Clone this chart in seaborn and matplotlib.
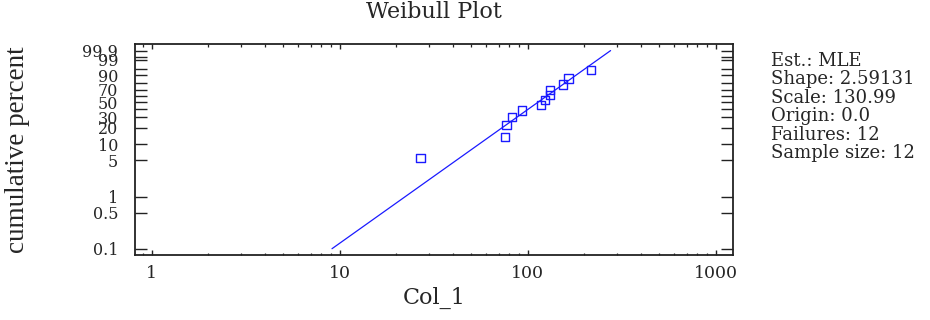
import numpy as np
import matplotlib
matplotlib.use('Agg')
import matplotlib.pyplot as plt
import matplotlib.ticker as mticker
import seaborn as sns

# data
failure_times = [26.9, 75.8, 77.1, 82.3, 93.4, 117.9, 123.8, 131.5, 132.0, 154.3, 164.8, 218.3]
cum_percent = [5.6, 13.7, 21.8, 29.8, 37.9, 46.0, 54.0, 62.1, 70.2, 78.2, 86.3, 94.4]

# fitted line ends
line_x = [9.1, 276.0]
line_p = [0.1, 99.9]

y_ticks = [0.1, 0.5, 1, 5, 10, 20, 30, 40, 50, 60, 70, 80, 90, 95, 99, 99.5, 99.9]
y_tick_labels = ['0.1', '0.5', '1', '5', '10', '20', '30', '', '50', '', '70', '', '90', '', '99', '', '99.9']
x_ticks = [1, 10, 100, 1000]
x_tick_labels = ['1', '10', '100', '1000']

stats_lines = ['Est.: MLE', 'Shape: 2.59131', 'Scale: 130.99', 'Origin: 0.0',
               'Failures: 12', 'Sample size: 12']


def weib_fwd(p):
    p = np.clip(np.asarray(p, dtype=float), 1e-9, 100 - 1e-9)
    return np.log(-np.log(1 - p / 100.0))


def weib_inv(t):
    return 100.0 * (1 - np.exp(-np.exp(t)))


sns.set_style('ticks')
plt.rcParams['font.family'] = ['DejaVu Serif']

fig = plt.figure(figsize=(9.3, 3.2), dpi=100)
ax = fig.add_axes([135 / 930, 1 - 255 / 320, 598 / 930, 211 / 320])

ax.set_xscale('log')
ax.set_yscale('function', functions=(weib_fwd, weib_inv))

sns.lineplot(x=line_x, y=line_p, ax=ax, color='#1a1aff', linewidth=0.9)
sns.scatterplot(x=failure_times, y=cum_percent, ax=ax, marker='s', s=34,
                facecolor='none', edgecolor='#1a1aff', linewidth=1.0)

ax.set_xlim(0.815, 1236)
ax.set_ylim(0.0755, 99.9906)

ax.yaxis.set_major_locator(mticker.FixedLocator(y_ticks))
ax.yaxis.set_major_formatter(mticker.FixedFormatter(y_tick_labels))
ax.yaxis.set_minor_locator(mticker.NullLocator())
ax.xaxis.set_major_locator(mticker.FixedLocator(x_ticks))
ax.xaxis.set_major_formatter(mticker.FixedFormatter(x_tick_labels))
ax.xaxis.set_minor_locator(mticker.LogLocator(base=10, subs=np.arange(2, 10)))
ax.xaxis.set_minor_formatter(mticker.NullFormatter())

ax.tick_params(axis='y', which='major', direction='in', length=8.5, width=1.0,
               left=True, right=True, labelsize=11.5, pad=12, color='#222222')
ax.tick_params(axis='x', which='major', direction='in', length=3.5, width=1.0,
               bottom=True, top=True, labelsize=12.5, pad=7, color='#222222')
ax.tick_params(axis='x', which='minor', direction='in', length=1.8, width=0.9,
               bottom=True, top=True, color='#222222')

for sp in ax.spines.values():
    sp.set_visible(True)
    sp.set_linewidth(1.3)
    sp.set_color('#222222')

ax.set_title('Weibull Plot', fontsize=16, pad=19)
ax.set_xlabel('Col_1', fontsize=16)
ax.xaxis.set_label_coords(0.5, -0.15)
ax.set_ylabel('cumulative percent', fontsize=19.5, family=['Liberation Serif'])
ax.yaxis.set_label_coords(-0.176, 0.5)

fig.text(771 / 930, 1 - 52 / 320, '\n'.join(stats_lines), fontsize=13,
         va='top', ha='left', linespacing=1.03)

fig.savefig('out.png', dpi=100)
